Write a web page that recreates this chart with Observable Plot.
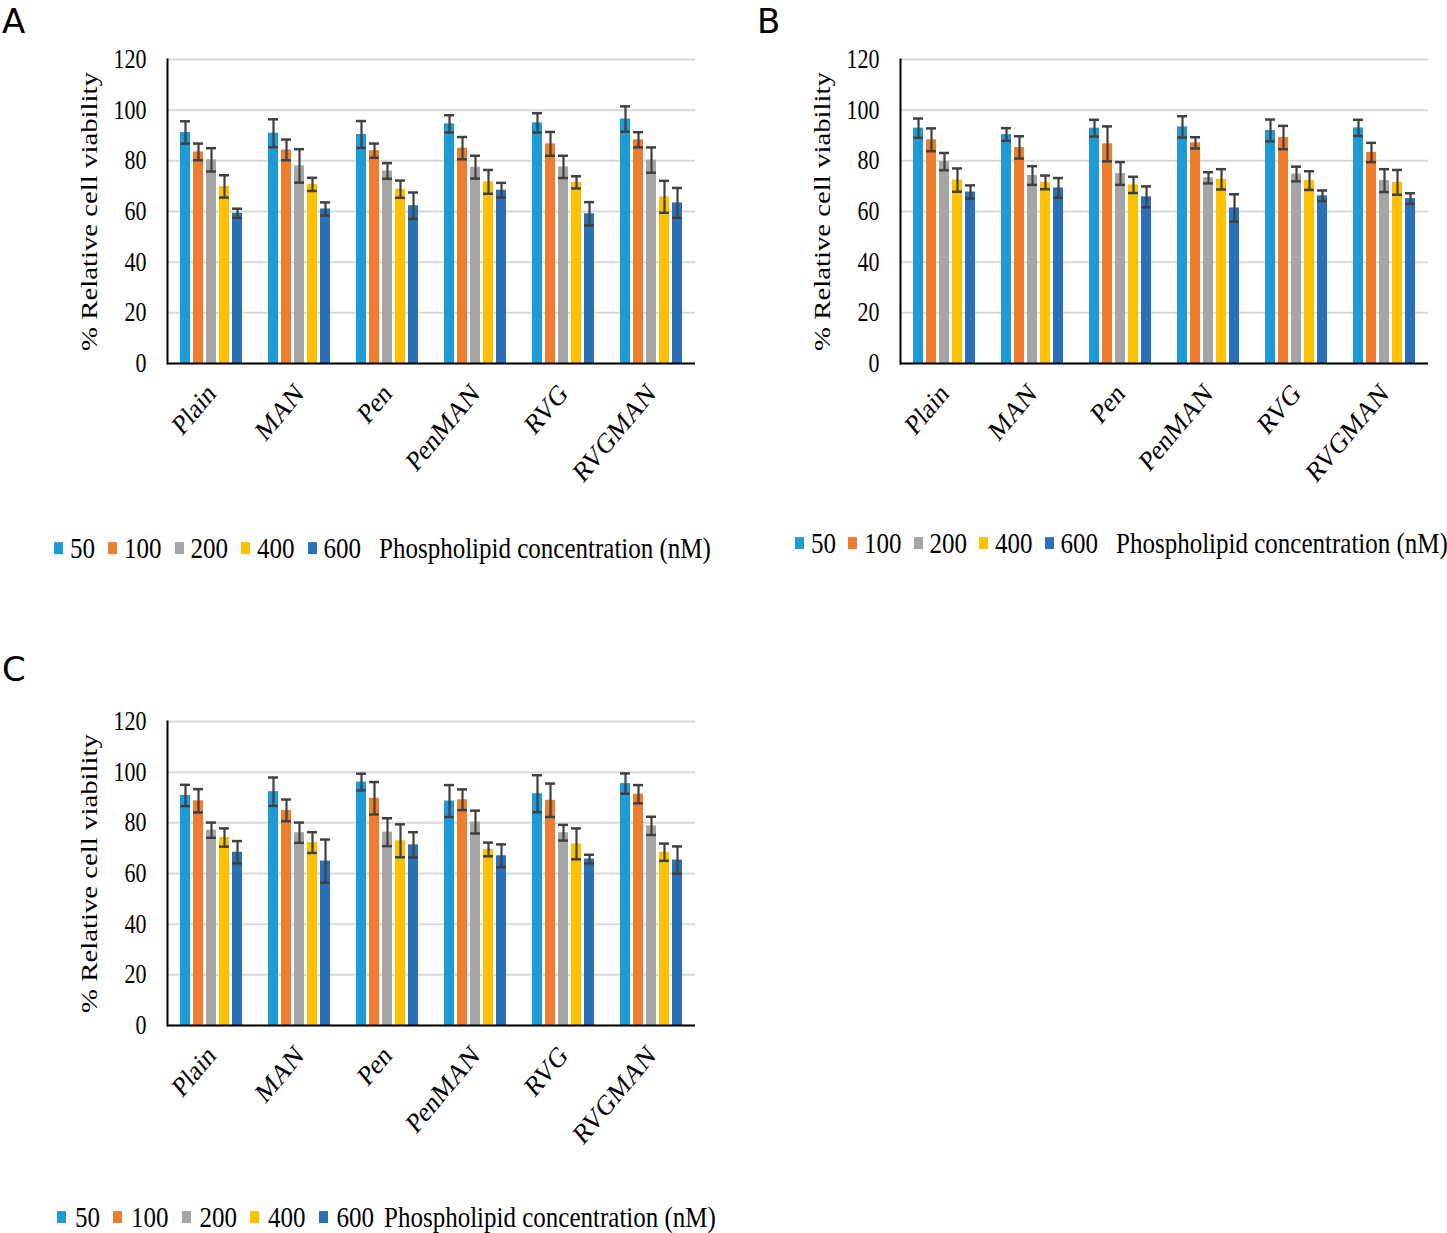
<!DOCTYPE html>
<html><head><meta charset="utf-8">
<script src="https://cdn.jsdelivr.net/npm/d3@7"></script>
<script src="https://cdn.jsdelivr.net/npm/@observablehq/plot@0.6"></script>
<style>
body{margin:0;background:#fff;}
#root{position:relative;width:1447px;height:1233px;overflow:hidden;background:#fff;}
.panel{position:absolute;}
.letter{position:absolute;font-family:"DejaVu Sans",sans-serif;font-size:34px;color:#000;line-height:1;}
.legend{position:absolute;font-family:"Liberation Serif",serif;font-size:25px;display:flex;align-items:center;white-space:nowrap;color:#000;line-height:1;transform:scaleY(1.2);transform-origin:left center;}
.sw{display:inline-block;width:9px;height:10px;}
.item{display:inline-flex;align-items:center;}
</style></head><body><div id="root"></div><script>
const groups = ["Plain", "MAN", "Pen", "PenMAN", "RVG", "RVGMAN"];
const concs = ["50", "100", "200", "400", "600"];
const colors = ["#1e9bd7", "#ef7d2e", "#a5a5a5", "#ffc000", "#2b70b7"];
const yTicks = [0, 20, 40, 60, 80, 100, 120];
const yLabel = "% Relative cell viability";
const legendTitle = "Phospholipid concentration (nM)";

// Panel A
const meanA = [
  [91.2, 83.5, 80.4, 69.9, 59.3],
  [90.9, 84.3, 78.0, 70.7, 61.0],
  [90.4, 84.0, 76.0, 68.8, 62.3],
  [94.6, 85.0, 77.5, 71.7, 68.4],
  [95.0, 86.7, 77.6, 71.5, 59.1],
  [96.5, 88.3, 80.3, 65.8, 63.4]
];
const errA = [
  [4.4, 3.3, 4.6, 4.4, 1.8],
  [5.5, 4.1, 6.6, 2.6, 2.6],
  [5.3, 2.8, 3.1, 3.4, 5.2],
  [3.4, 4.4, 4.5, 4.7, 2.9],
  [3.8, 4.7, 4.4, 2.4, 4.6],
  [5.0, 3.0, 5.0, 6.3, 5.9]
];
// Panel B
const meanB = [
  [92.9, 88.3, 79.7, 72.4, 67.7],
  [90.4, 85.3, 74.2, 71.5, 69.3],
  [92.9, 86.7, 75.0, 70.5, 65.8],
  [93.4, 87.1, 73.3, 72.7, 61.4],
  [92.0, 89.2, 74.8, 72.2, 66.2],
  [93.0, 83.3, 72.2, 71.5, 65.1]
];
const errB = [
  [3.8, 4.5, 3.4, 4.6, 2.6],
  [2.5, 4.4, 3.7, 2.7, 3.9],
  [3.3, 6.9, 4.5, 3.2, 4.1],
  [4.2, 2.2, 2.2, 4.0, 5.4],
  [4.3, 4.6, 2.9, 3.7, 2.1],
  [3.2, 3.8, 4.5, 4.9, 2.1]
];
// Panel C
const meanC = [
  [90.8, 88.7, 77.1, 74.2, 68.4],
  [92.3, 84.9, 76.1, 72.2, 64.9],
  [96.1, 89.7, 76.3, 72.9, 71.3],
  [88.6, 89.1, 80.3, 69.5, 67.0],
  [91.5, 88.9, 76.1, 71.7, 65.7],
  [95.5, 91.3, 78.8, 68.4, 65.3]
];
const errC = [
  [4.2, 4.6, 3.0, 3.6, 4.4],
  [5.6, 4.3, 4.0, 4.1, 8.5],
  [3.3, 6.4, 5.5, 6.5, 5.0],
  [6.3, 4.1, 4.5, 2.7, 4.5],
  [7.3, 6.6, 3.1, 6.1, 1.7],
  [4.0, 3.6, 3.6, 3.4, 5.4]
];

const root = document.getElementById("root");
const SERIF = "Liberation Serif";
const STRETCH = 1.2;

function stretchTexts(svg) {
  svg.querySelectorAll("text").forEach(t => {
    let tr = t.getAttribute("transform") || "";
    if (/translate\(/.test(tr)) {
      tr = tr.replace(/translate\([^)]*\)/, m => m + ` scale(1,${STRETCH})`);
    } else {
      const X = +(t.getAttribute("x") || 0), Y = +(t.getAttribute("y") || 0);
      t.removeAttribute("x"); t.removeAttribute("y");
      tr = `translate(${X},${Y}) scale(1,${STRETCH}) ` + tr;
    }
    t.setAttribute("transform", tr);
  });
}

function makeChart(means, errs, width, marginRight) {
  const rows = [];
  groups.forEach((g, i) => concs.forEach((c, j) =>
    rows.push({group: g, conc: c, v: means[i][j], e: errs[i][j]})));
  const errColor = "#404040";
  const svg = Plot.plot({
    width, height: 480,
    marginLeft: 166, marginRight, marginTop: 29, marginBottom: 147,
    style: {fontFamily: SERIF, fontSize: "22px", color: "#000", background: "transparent", overflow: "visible"},
    fx: {domain: groups, padding: 0, label: null},
    x: {domain: concs, paddingInner: 0.22, paddingOuter: 0.83, axis: null},
    y: {domain: [0, 120], label: null},
    color: {domain: concs, range: colors},
    marks: [
      Plot.gridY(yTicks, {stroke: "#d9d9d9", strokeOpacity: 1, strokeWidth: 2}),
      Plot.barY(rows, {fx: "group", x: "conc", y: "v", fill: "conc"}),
      Plot.ruleX(rows, {fx: "group", x: "conc", y1: d => d.v - d.e, y2: d => d.v + d.e, stroke: errColor, strokeWidth: 2.2}),
      Plot.tickY(rows, {fx: "group", x: "conc", y: d => d.v + d.e, stroke: errColor, strokeWidth: 2.5}),
      Plot.tickY(rows, {fx: "group", x: "conc", y: d => d.v - d.e, stroke: errColor, strokeWidth: 2.5}),
      Plot.ruleY([0], {stroke: "#000", strokeWidth: 2}),
      Plot.frame({anchor: "left", facetAnchor: "left", stroke: "#000", strokeWidth: 2}),
      Plot.axisY(yTicks, {tickSize: 0, tickPadding: 21, label: null, fontSize: 22, fontFamily: SERIF, facetAnchor: "left"}),
      Plot.text([yLabel], {frameAnchor: "left", textAnchor: "middle", lineAnchor: "middle", rotate: -90, dx: -78, fontSize: 24, fontFamily: SERIF, fill: "#000", facetAnchor: "left"}),
      Plot.axisFx({anchor: "bottom", tickSize: 0, tickRotate: -45, tickPadding: 25, dx: 0, label: null, fontSize: 24, fontFamily: SERIF})
    ]
  });
  stretchTexts(svg);
  return svg;
}

function addPanel({letter, means, errs, left, top, width, marginRight, letterPos, legendPos, sqGap, itemGap, titleGap}) {
  const div = document.createElement("div");
  div.className = "panel";
  div.style.left = left + "px";
  div.style.top = top + "px";
  div.appendChild(makeChart(means, errs, width, marginRight));
  root.appendChild(div);

  const L = document.createElement("div");
  L.className = "letter";
  L.textContent = letter;
  L.style.left = letterPos[0] + "px";
  L.style.top = letterPos[1] + "px";
  root.appendChild(L);

  const leg = document.createElement("div");
  leg.className = "legend";
  leg.style.left = legendPos[0] + "px";
  leg.style.top = legendPos[1] + "px";
  concs.forEach((c, i) => {
    const it = document.createElement("span");
    it.className = "item";
    it.style.marginRight = (i === concs.length - 1 ? titleGap : itemGap) + "px";
    const sw = document.createElement("span");
    sw.className = "sw";
    sw.style.background = colors[i];
    sw.style.marginRight = sqGap + "px";
    it.appendChild(sw);
    it.appendChild(document.createTextNode(c));
    leg.appendChild(it);
  });
  leg.appendChild(document.createTextNode(legendTitle));
  root.appendChild(leg);
}

addPanel({letter: "A", means: meanA, errs: errA, left: 0, top: 30, width: 720, marginRight: 24,
  letterPos: [2, 4], legendPos: [54, 535], sqGap: 7, itemGap: 13, titleGap: 18});
addPanel({letter: "B", means: meanB, errs: errB, left: 733, top: 30, width: 714, marginRight: 19,
  letterPos: [757, 4], legendPos: [795, 530], sqGap: 7, itemGap: 12, titleGap: 18});
addPanel({letter: "C", means: meanC, errs: errC, left: 0, top: 692, width: 720, marginRight: 24,
  letterPos: [2, 652], legendPos: [57, 1204], sqGap: 9, itemGap: 13, titleGap: 10});
</script></body></html>
